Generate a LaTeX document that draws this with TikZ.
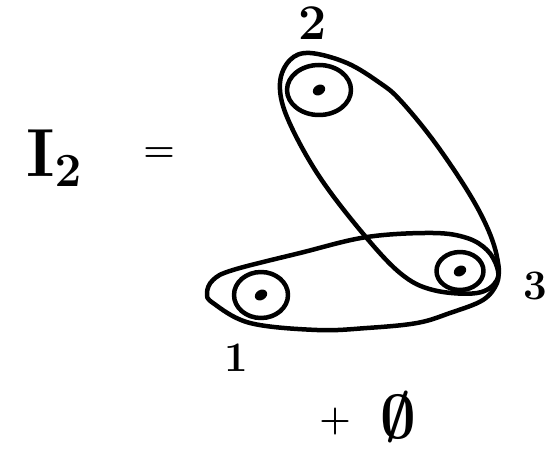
\RequirePackage{fix-cm}
\documentclass[tikz,border=0pt]{standalone}
\usetikzlibrary{shapes.geometric}
\begin{document}
\begin{tikzpicture}[x=1pt,y=-1pt,line cap=round,line join=round,
  ring/.style={draw,ellipse,line width=4.5pt,inner sep=0pt},
  dotmark/.style={fill,ellipse,inner sep=0pt,minimum width=13pt,minimum height=10pt},
  loopline/.style={line width=4.5pt},
  lbl/.style={inner sep=0pt}]
\useasboundingbox (0,0) rectangle (546,449);
% left-hand side
\node[lbl,font=\fontsize{68}{68}\selectfont\mathversion{bold}] (lhs) at (54,158) {$\mathbf{I}_{\mathbf{2}}$};
\node[lbl,font=\fontsize{36}{36}\selectfont\mathversion{bold}] (eq) at (159,155) {$=$};
% vertices
\node[ring,minimum width=64pt,minimum height=50pt] (n2) at (319,90) {};
\node[ring,minimum width=47pt,minimum height=38pt] (n3) at (460,271) {};
\node[ring,minimum width=54pt,minimum height=46pt] (n1) at (261,295) {};
\node[dotmark,rotate=30] (d2) at (n2.center) {};
\node[dotmark,rotate=30] (d3) at (n3.center) {};
\node[dotmark,rotate=30] (d1) at (n1.center) {};
% labels
\node[lbl,font=\fontsize{50}{50}\selectfont\mathversion{bold}] (l2) at (313,23) {$\mathbf{2}$};
\node[lbl,font=\fontsize{42}{42}\selectfont\mathversion{bold}] (l3) at (535,286) {$\mathbf{3}$};
\node[lbl,font=\fontsize{42}{42}\selectfont\mathversion{bold}] (l1) at (236,358) {$\mathbf{1}$};
% hyperedges
\draw[loopline] plot[smooth cycle,tension=0.6] coordinates {
  (310,53) (347,63) (380,83) (400,100) (433,140) (467,190) (487,227)
  (497,257) (497,280) (477,293) (433,290) (400,273) (360,230) (317,173)
  (287,117) (280,83) (290,60)};
\draw[loopline] plot[smooth cycle,tension=0.6] coordinates {
  (213,280) (233,270) (300,253) (367,237) (433,233) (467,238) (487,250)
  (497,267) (497,283) (483,300) (450,313) (417,323) (367,328) (317,330)
  (250,323) (213,303) (207,293)};
% plus empty set
\node[lbl,font=\fontsize{36}{36}\selectfont\mathversion{bold}] (plus) at (335,421) {$+$};
\node[lbl,font=\fontsize{62}{62}\selectfont\mathversion{bold}] (empty) at (398,417) {$\emptyset$};
\end{tikzpicture}
\end{document}
